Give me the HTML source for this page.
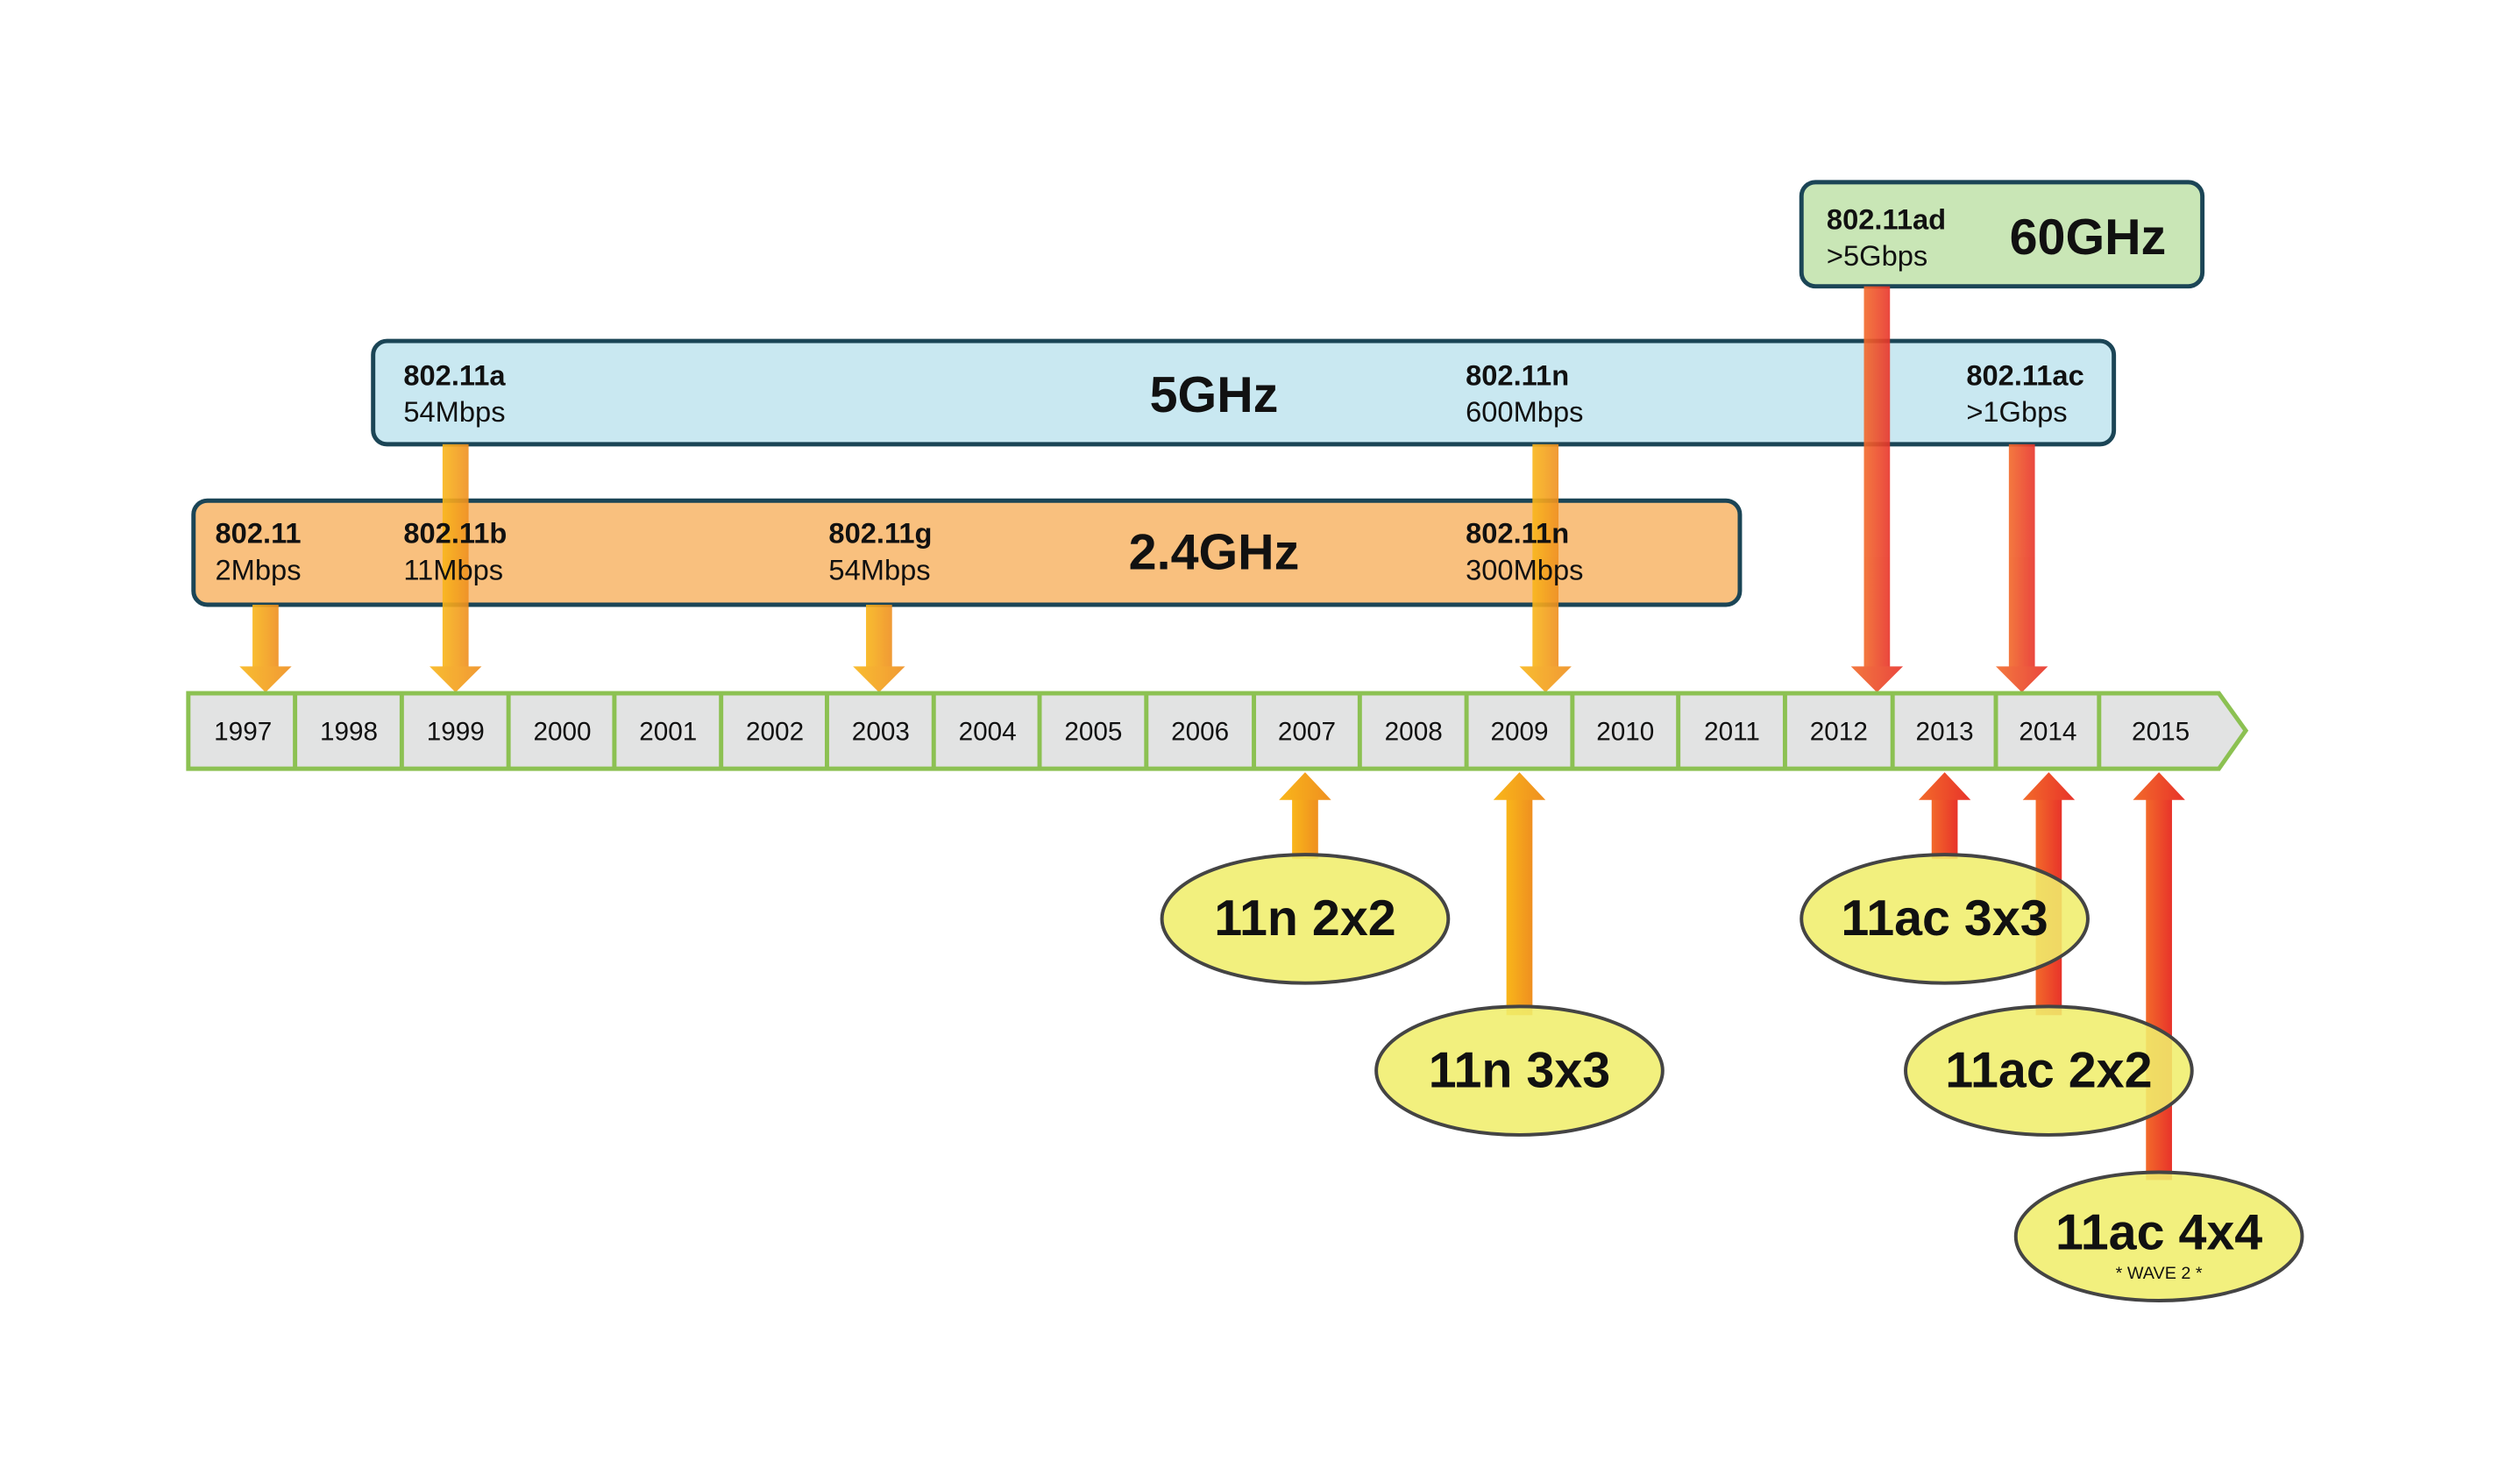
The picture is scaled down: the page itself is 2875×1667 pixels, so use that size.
<!DOCTYPE html>
<html><head><meta charset="utf-8"><style>
html,body{margin:0;padding:0;background:#fff;width:2875px;height:1667px;overflow:hidden}
svg{display:block}
text{font-family:"Liberation Sans Narrow","Liberation Sans",sans-serif;fill:#111}
.b{font-family:"Liberation Sans",sans-serif;font-weight:bold}
.n{font-family:"Liberation Sans",sans-serif}
</style></head><body>
<svg width="2875" height="1667" viewBox="0 0 2875 1667" xmlns="http://www.w3.org/2000/svg">
<defs>
<linearGradient id="og" x1="0" x2="1" y1="0" y2="0"><stop offset="0" stop-color="#f9b61a"/><stop offset="1" stop-color="#ef8f20"/></linearGradient>
<linearGradient id="rg" x1="0" x2="1" y1="0" y2="0"><stop offset="0" stop-color="#f26a2a"/><stop offset="1" stop-color="#e8332a"/></linearGradient>
</defs>
<g transform="scale(0.99)">
<!-- boxes -->
<rect x="2076" y="210" width="462" height="120" rx="16" fill="#c9e6b6" stroke="#1b4556" stroke-width="5"/>
<rect x="430" y="393" width="2006" height="119" rx="16" fill="#c9e8f1" stroke="#1b4556" stroke-width="5"/>
<rect x="223" y="577" width="1782" height="120" rx="16" fill="#f9c07e" stroke="#1b4556" stroke-width="5"/>

<!-- down arrows -->
<g opacity="0.9">
<rect x="291" y="697" width="30" height="75" fill="url(#og)"/><polygon points="276,768 336,768 306,798" fill="url(#og)"/>
<rect x="510" y="512" width="30" height="260" fill="url(#og)"/><polygon points="495,768 555,768 525,798" fill="url(#og)"/>
<rect x="998" y="697" width="30" height="75" fill="url(#og)"/><polygon points="983,768 1043,768 1013,798" fill="url(#og)"/>
<rect x="1766" y="512" width="30" height="260" fill="url(#og)"/><polygon points="1751,768 1811,768 1781,798" fill="url(#og)"/>
<rect x="2148" y="330" width="30" height="442" fill="url(#rg)"/><polygon points="2133,768 2193,768 2163,798" fill="url(#rg)"/>
<rect x="2315" y="512" width="30" height="260" fill="url(#rg)"/><polygon points="2300,768 2360,768 2330,798" fill="url(#rg)"/>
</g>

<!-- box text -->
<text class="b" x="2105" y="264" font-size="33">802.11ad</text>
<text class="n" x="2105" y="306" font-size="33">&gt;5Gbps</text>
<text class="b" x="2406" y="293" font-size="58" text-anchor="middle">60GHz</text>

<text class="b" x="465" y="444" font-size="33">802.11a</text>
<text class="n" x="465" y="486" font-size="33">54Mbps</text>
<text class="b" x="1399" y="475" font-size="58" text-anchor="middle">5GHz</text>
<text class="b" x="1689" y="444" font-size="33">802.11n</text>
<text class="n" x="1689" y="486" font-size="33">600Mbps</text>
<text class="b" x="2266" y="444" font-size="33">802.11ac</text>
<text class="n" x="2266" y="486" font-size="33">&gt;1Gbps</text>

<text class="b" x="248" y="626" font-size="33">802.11</text>
<text class="n" x="248" y="668" font-size="33">2Mbps</text>
<text class="b" x="465" y="626" font-size="33">802.11b</text>
<text class="n" x="465" y="668" font-size="33">11Mbps</text>
<text class="b" x="955" y="626" font-size="33">802.11g</text>
<text class="n" x="955" y="668" font-size="33">54Mbps</text>
<text class="b" x="1399" y="656" font-size="58" text-anchor="middle">2.4GHz</text>
<text class="b" x="1689" y="626" font-size="33">802.11n</text>
<text class="n" x="1689" y="668" font-size="33">300Mbps</text>

<!-- timeline -->
<polygon points="217,799 2557,799 2588,842 2557,886 217,886" fill="#e2e3e3" stroke="#8cc152" stroke-width="5"/>
<g stroke="#8cc152" stroke-width="5">
<line x1="340" y1="799" x2="340" y2="886"/><line x1="463" y1="799" x2="463" y2="886"/>
<line x1="586" y1="799" x2="586" y2="886"/><line x1="708" y1="799" x2="708" y2="886"/>
<line x1="831" y1="799" x2="831" y2="886"/><line x1="953" y1="799" x2="953" y2="886"/>
<line x1="1076" y1="799" x2="1076" y2="886"/><line x1="1198" y1="799" x2="1198" y2="886"/>
<line x1="1321" y1="799" x2="1321" y2="886"/><line x1="1445" y1="799" x2="1445" y2="886"/>
<line x1="1567" y1="799" x2="1567" y2="886"/><line x1="1690" y1="799" x2="1690" y2="886"/>
<line x1="1812" y1="799" x2="1812" y2="886"/><line x1="1934" y1="799" x2="1934" y2="886"/>
<line x1="2057" y1="799" x2="2057" y2="886"/><line x1="2181" y1="799" x2="2181" y2="886"/>
<line x1="2300" y1="799" x2="2300" y2="886"/><line x1="2419" y1="799" x2="2419" y2="886"/>
</g>
<g font-size="30" text-anchor="middle">
<text x="280" y="853">1997</text><text x="402" y="853">1998</text><text x="525" y="853">1999</text>
<text x="648" y="853">2000</text><text x="770" y="853">2001</text><text x="893" y="853">2002</text>
<text x="1015" y="853">2003</text><text x="1138" y="853">2004</text><text x="1260" y="853">2005</text>
<text x="1383" y="853">2006</text><text x="1506" y="853">2007</text><text x="1629" y="853">2008</text>
<text x="1751" y="853">2009</text><text x="1873" y="853">2010</text><text x="1996" y="853">2011</text>
<text x="2119" y="853">2012</text><text x="2241" y="853">2013</text><text x="2360" y="853">2014</text>
<text x="2490" y="853">2015</text>
</g>

<!-- up arrows -->
<rect x="1489" y="920" width="30" height="70" fill="url(#og)"/><polygon points="1474,922 1534,922 1504,890" fill="url(#og)"/>
<rect x="1736" y="920" width="30" height="250" fill="url(#og)"/><polygon points="1721,922 1781,922 1751,890" fill="url(#og)"/>
<rect x="2226" y="920" width="30" height="70" fill="url(#rg)"/><polygon points="2211,922 2271,922 2241,890" fill="url(#rg)"/>
<rect x="2346" y="920" width="30" height="250" fill="url(#rg)"/><polygon points="2331,922 2391,922 2361,890" fill="url(#rg)"/>
<rect x="2473" y="920" width="30" height="440" fill="url(#rg)"/><polygon points="2458,922 2518,922 2488,890" fill="url(#rg)"/>

<!-- ellipses -->
<g fill="#f0ee6c" fill-opacity="0.88" stroke="#444" stroke-width="4">
<ellipse cx="1504" cy="1059" rx="165" ry="74"/>
<ellipse cx="1751" cy="1234" rx="165" ry="74"/>
<ellipse cx="2241" cy="1059" rx="165" ry="74"/>
<ellipse cx="2361" cy="1234" rx="165" ry="74"/>
<ellipse cx="2488" cy="1425" rx="165" ry="74"/>
</g>
<text class="b" x="1504" y="1078" font-size="58" text-anchor="middle">11n 2x2</text>
<text class="b" x="1751" y="1253" font-size="58" text-anchor="middle">11n 3x3</text>
<text class="b" x="2241" y="1078" font-size="58" text-anchor="middle">11ac 3x3</text>
<text class="b" x="2361" y="1253" font-size="58" text-anchor="middle">11ac 2x2</text>
<text class="b" x="2488" y="1440" font-size="58" text-anchor="middle">11ac 4x4</text>
<text x="2488" y="1474" font-size="20" text-anchor="middle">* WAVE 2 *</text>
</g>
</svg>
</body></html>
